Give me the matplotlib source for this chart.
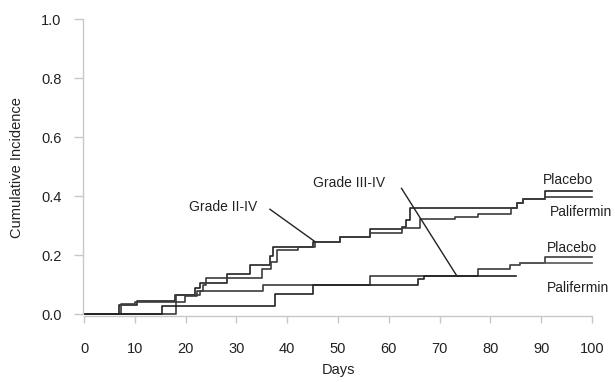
import matplotlib
matplotlib.use("Agg")
import matplotlib.pyplot as plt

plt.rcParams['font.family'] = ['Liberation Sans', 'DejaVu Sans']

# Grade II-IV curves (day of step, cumulative incidence after step)
g24_placebo_days = [0, 6.8, 10.4, 17.9, 21.9, 22.8, 28.1, 32.7, 36.6, 37.3, 45.1, 50.4,
                    56.3, 62.6, 63.3, 64.2, 85.3, 86.5, 90.7, 100]
g24_placebo_vals = [0, 0.030, 0.045, 0.064, 0.087, 0.106, 0.134, 0.166, 0.197, 0.228, 0.245, 0.262,
                    0.287, 0.294, 0.319, 0.358, 0.376, 0.389, 0.418, 0.418]
g24_palif_days = [0, 7.2, 10.0, 19.9, 22.2, 23.5, 24.1, 35.0, 36.9, 37.9, 42.2, 45.5, 50.4,
                  56.3, 62.6, 66.1, 73.0, 77.6, 84.0, 85.3, 86.5, 90.7, 100]
g24_palif_vals = [0, 0.034, 0.040, 0.062, 0.078, 0.098, 0.121, 0.151, 0.177, 0.217, 0.226, 0.245, 0.262,
                  0.273, 0.290, 0.322, 0.330, 0.338, 0.358, 0.376, 0.389, 0.398, 0.398]

# Grade III-IV curves
g34_placebo_days = [0, 18.2, 22.8, 35.3, 56.3, 77.6, 83.9, 85.8, 90.7, 100]
g34_placebo_vals = [0, 0.064, 0.078, 0.098, 0.130, 0.152, 0.166, 0.174, 0.193, 0.193]
g34_palif_days = [0, 15.3, 37.6, 45.1, 65.8, 67.0, 85.0]
g34_palif_vals = [0, 0.028, 0.067, 0.098, 0.120, 0.130, 0.130]
# second trace that runs on after day 85 just under the placebo line
g34_tail_days = [85.8, 100]
g34_tail_vals = [0.174, 0.174]

x_ticks = [0, 10, 20, 30, 40, 50, 60, 70, 80, 90, 100]
y_ticks = [0.0, 0.2, 0.4, 0.6, 0.8, 1.0]

fig = plt.figure(figsize=(6.15, 3.82), dpi=100)
ax = fig.add_axes([0.1201, 0.1471, 0.859, 0.8263])
ax.set_xlim(-2, 102)
ax.set_ylim(-0.04, 1.03)

ax.plot(g24_placebo_days, g24_placebo_vals, drawstyle='steps-post', color='#222222', lw=1.2)
ax.plot(g24_palif_days, g24_palif_vals, drawstyle='steps-post', color='#3c3c3c', lw=1.2)
ax.plot(g34_placebo_days, g34_placebo_vals, drawstyle='steps-post', color='#3c3c3c', lw=1.2)
ax.plot(g34_palif_days, g34_palif_vals, drawstyle='steps-post', color='#222222', lw=1.2)
ax.plot(g34_tail_days, g34_tail_vals, color='#555555', lw=1.2)

# pointer lines and labels
ax.plot([36.6, 45.5], [0.355, 0.245], color='#222222', lw=1.0)
ax.text(27.4, 0.363, 'Grade II-IV', ha='center', va='center', fontsize=10, color='#222222')
ax.plot([62.5, 73.4], [0.426, 0.129], color='#222222', lw=1.0)
ax.text(52.2, 0.443, 'Grade III-IV', ha='center', va='center', fontsize=10, color='#222222')

ax.text(90.4, 0.454, 'Placebo', ha='left', va='center', fontsize=10, color='#222222', clip_on=False)
ax.text(91.7, 0.347, 'Palifermin', ha='left', va='center', fontsize=10, color='#222222', clip_on=False)
ax.text(91.1, 0.223, 'Placebo', ha='left', va='center', fontsize=10, color='#222222', clip_on=False)
ax.text(91.1, 0.087, 'Palifermin', ha='left', va='center', fontsize=10, color='#222222', clip_on=False)

for s in ['top', 'right']:
    ax.spines[s].set_visible(False)
ax.spines['left'].set_position(('data', -0.2))
ax.spines['left'].set_bounds(0, 1)
ax.spines['bottom'].set_position(('data', -0.007))
ax.spines['bottom'].set_bounds(0, 100)
for s in ['left', 'bottom']:
    ax.spines[s].set_color('#c8c8c8')
    ax.spines[s].set_linewidth(1.0)

ax.set_xticks(x_ticks)
ax.set_yticks(y_ticks)
ax.set_yticklabels(['%.1f' % v for v in y_ticks])
ax.tick_params(axis='y', direction='out', length=6.5, width=1.0, color='#c8c8c8',
               labelsize=10.5, labelcolor='#222222', pad=9)
ax.tick_params(axis='x', direction='out', length=5, width=1.0, color='#c8c8c8',
               labelsize=10.5, labelcolor='#222222', pad=14)

ax.set_xlabel('Days', fontsize=10.5, color='#222222', labelpad=5)
ax.set_ylabel('Cumulative Incidence', fontsize=10.5, color='#222222', labelpad=12)

fig.savefig('out.png', dpi=100)
